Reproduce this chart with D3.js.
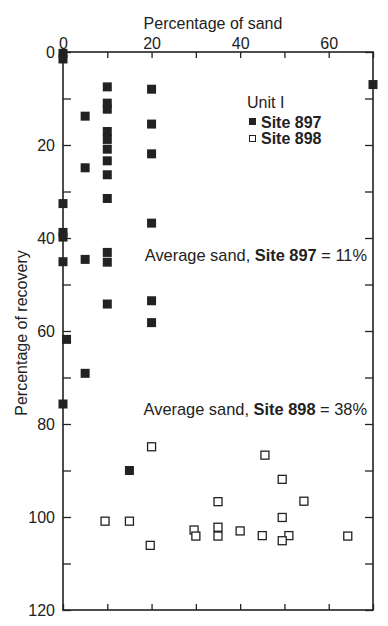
<!DOCTYPE html>
<html>
<head>
<meta charset="utf-8">
<script src="https://cdn.jsdelivr.net/npm/d3@7"></script>
<style>
  body { margin: 0; background: #fff; }
  text { font-family: "Liberation Sans", Arial, sans-serif; fill: #222; }
</style>
</head>
<body>
<div id="chart"></div>
<script>
'use strict';

// Site 897 (filled squares): percentage of sand vs percentage of recovery
const site897Sand = [0, 0, 70, 10, 20, 10, 10, 5, 20, 10, 10, 10, 20, 10, 5, 10,
                     10, 0, 20, 0, 0, 10, 0, 5, 10, 20, 10, 20, 0.8, 5, 0, 15];
const site897Recovery = [0.3, 1.5, 7, 7.5, 8, 11, 12.3, 13.8, 15.5, 17.1, 18.8, 20.9, 21.9, 23.4, 24.9, 26.4,
                         31.5, 32.6, 36.8, 38.8, 39.8, 43.1, 45.1, 44.6, 45.2, 53.5, 54.2, 58.2, 61.8, 69.1, 75.7, 90];

// Site 898 (open squares)
const site898Sand = [20, 45.6, 49.5, 35, 54.4, 49.5, 9.5, 15, 35, 29.6, 40, 30, 35, 45, 51, 64.3, 49.5, 19.7];
const site898Recovery = [84.9, 86.7, 91.9, 96.7, 96.6, 100.1, 100.9, 100.9, 102.2, 102.8, 103, 104.1, 104.1, 104, 104, 104.1, 105.1, 106.1];

const sandTicks = [0, 10, 20, 30, 40, 50, 60, 70];
const sandLabels = [0, 20, 40, 60];
const recoveryTicks = [0, 10, 20, 30, 40, 50, 60, 70, 80, 90, 100, 110, 120];
const recoveryLabels = [0, 20, 40, 60, 80, 100, 120];

const averages = [
  {site: "Site 897", value: 11, at: 45},
  {site: "Site 898", value: 38, at: 78}
];

let width = 388;
let height = 626;

let x = d3.scaleLinear().domain([0, 70]).range([63, 373]);
let y = d3.scaleLinear().domain([0, 120]).range([52, 610]);

let svg = d3.select("#chart").append("svg")
    .attr("width", width)
    .attr("height", height);

function fmt(list) {
    return function(d) { return list.indexOf(d) >= 0 ? d : ""; };
}

// axes, ticks pointing inward
let axTop = svg.append("g")
    .attr("transform", "translate(0," + y(0) + ")")
    .call(d3.axisTop(x).tickValues(sandTicks).tickSize(-6).tickPadding(3).tickFormat(fmt(sandLabels)));
let axBottom = svg.append("g")
    .attr("transform", "translate(0," + y(120) + ")")
    .call(d3.axisBottom(x).tickValues(sandTicks).tickSize(-6).tickFormat(""));
let axLeft = svg.append("g")
    .attr("transform", "translate(" + x(0) + ",0)")
    .call(d3.axisLeft(y).tickValues(recoveryTicks).tickSize(-8).tickPadding(8).tickFormat(fmt(recoveryLabels)));
let axRight = svg.append("g")
    .attr("transform", "translate(" + x(70) + ",0)")
    .call(d3.axisRight(y).tickValues(recoveryTicks).tickSize(-8).tickFormat(""));

[axTop, axBottom, axLeft, axRight].forEach(function(g) {
    g.select(".domain").remove();
    g.selectAll("line").attr("stroke", "#222").attr("stroke-width", 1.3);
    g.selectAll("text").style("font-size", "16px").attr("fill", "#222")
        .style("font-family", "'Liberation Sans', Arial, sans-serif");
});

svg.append("rect")
    .attr("x", x(0)).attr("y", y(0))
    .attr("width", x(70) - x(0)).attr("height", y(120) - y(0))
    .attr("fill", "none").attr("stroke", "#222").attr("stroke-width", 1.6);

// axis titles
svg.append("text")
    .attr("x", (x(0) + x(70)) / 2 - 5).attr("y", 29)
    .attr("text-anchor", "middle")
    .style("font-size", "16px")
    .text("Percentage of sand");

svg.append("text")
    .attr("transform", "translate(27," + (y(60) + 2) + ")rotate(-90)")
    .attr("text-anchor", "middle")
    .style("font-size", "16px")
    .text("Percentage of recovery");

// points
let s897 = site897Sand.map(function(d, i) { return [d, site897Recovery[i]]; });
let s898 = site898Sand.map(function(d, i) { return [d, site898Recovery[i]]; });

svg.append("g").selectAll("rect")
    .data(s898)
    .enter().append("rect")
        .attr("x", function(d) { return x(d[0]) - 4; })
        .attr("y", function(d) { return y(d[1]) - 4; })
        .attr("width", 8).attr("height", 8)
        .attr("fill", "#fff").attr("stroke", "#222").attr("stroke-width", 1.3);

svg.append("g").selectAll("rect")
    .data(s897)
    .enter().append("rect")
        .attr("x", function(d) { return x(d[0]) - 4.5; })
        .attr("y", function(d) { return y(d[1]) - 4.5; })
        .attr("width", 9).attr("height", 9)
        .attr("fill", "#222");

// legend
let lg = svg.append("g").attr("transform", "translate(247,0)");
lg.append("text").attr("x", 0).attr("y", 108).style("font-size", "16px").text("Unit I");
lg.append("rect").attr("x", 2).attr("y", 118).attr("width", 7).attr("height", 7).attr("fill", "#222");
lg.append("text").attr("x", 14).attr("y", 128).style("font-size", "16px").style("font-weight", "bold").text("Site 897");
lg.append("rect").attr("x", 2.5).attr("y", 135.5).attr("width", 6).attr("height", 6)
    .attr("fill", "#fff").attr("stroke", "#222").attr("stroke-width", 1);
lg.append("text").attr("x", 14).attr("y", 144).style("font-size", "16px").style("font-weight", "bold").text("Site 898");

// averages
averages.forEach(function(a) {
    let t = svg.append("text")
        .attr("x", x(70) - 6).attr("y", y(a.at))
        .attr("text-anchor", "end")
        .style("font-size", "16.4px");
    t.append("tspan").text("Average sand, ");
    t.append("tspan").style("font-weight", "bold").text(a.site);
    t.append("tspan").text(" = " + a.value + "%");
});
</script>
</body>
</html>
